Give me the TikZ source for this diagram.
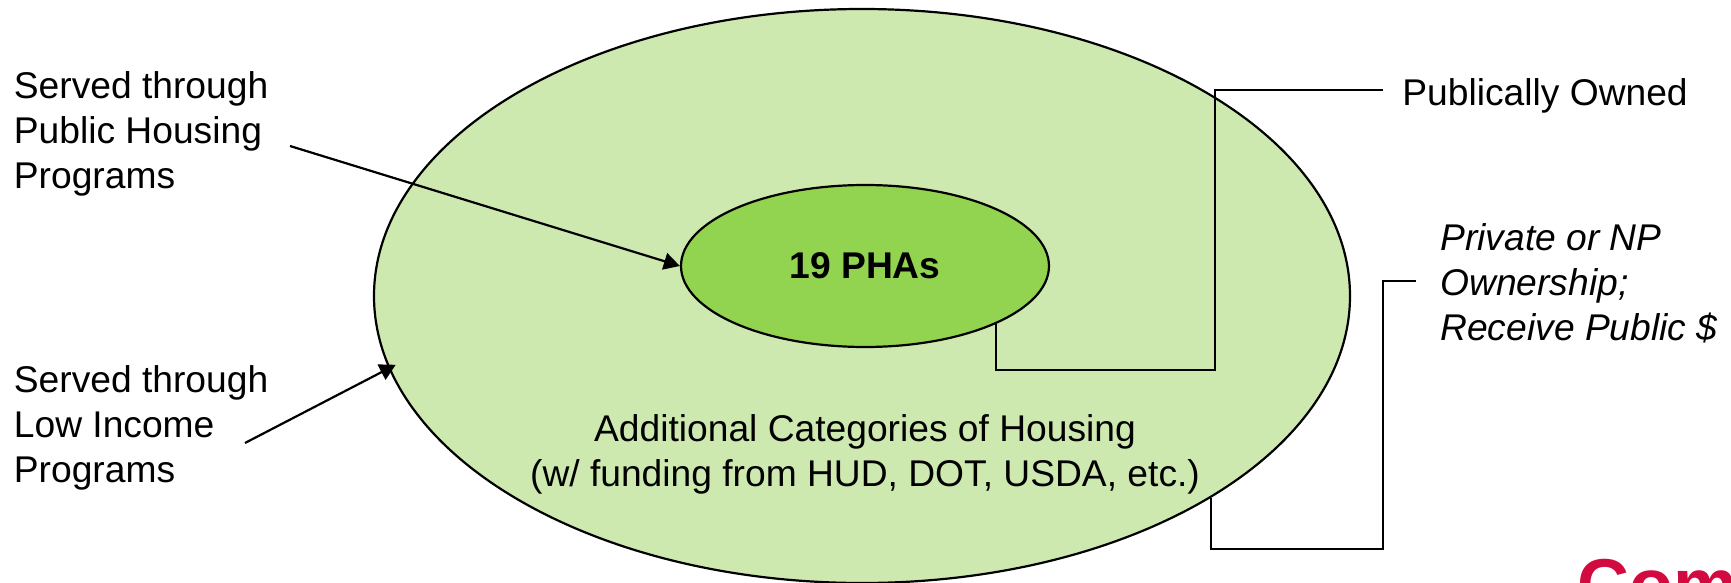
\documentclass[tikz,border=0pt]{standalone}
\usepackage{fontspec}
\setmainfont{Liberation Sans}
\usetikzlibrary{shapes.geometric,arrows.meta}
\definecolor{outerfill}{HTML}{CEE9B0}
\definecolor{innerfill}{HTML}{92D350}
\definecolor{logored}{HTML}{D20A40}
\tikzset{
  blob/.style={ellipse,draw=black,line width=1.1pt,inner sep=0pt},
  lbl/.style={font=\fontsize{18.6}{22.5}\selectfont,align=left,anchor=west,inner sep=0pt},
  conn/.style={draw=black,line width=1.1pt,line join=miter},
  arrowc/.style={conn,-{Stealth[length=8pt,width=8.5pt,inset=0pt]}}
}
\begin{document}
\begin{tikzpicture}[x=0.5pt,y=-0.5pt]
\useasboundingbox (0,0) rectangle (1731,583);
\begin{scope}
\clip (0,0) rectangle (1731,583);
\node[blob,fill=outerfill,minimum width=488pt,minimum height=287pt] (outer) at (862,296) {};
\node[lbl,text=logored,font=\fontsize{36}{36}\selectfont\bfseries,anchor=base west] (logo) at (1577,609) {Com};
\end{scope}
\node[blob,fill=innerfill,minimum width=184pt,minimum height=81pt,font=\fontsize{18.6}{22.5}\selectfont\bfseries] (inner) at (865,266) {19 PHAs};
\node[lbl,align=center,anchor=center] (cats) at (865,454) {Additional Categories of Housing\\(w/ funding from HUD, DOT, USDA, etc.)};
\node[lbl] (pubhous) at (13.5,134) {Served through\\Public Housing\\Programs};
\node[lbl] (lowinc) at (13.5,428) {Served through\\Low Income\\Programs};
\node[lbl] (pubown) at (1402,96) {Publically Owned};
\node[lbl,font=\fontsize{18.6}{22.5}\selectfont\itshape] (priv) at (1440,283) {Private or NP\\Ownership;\\Receive Public \$};
\coordinate (a1) at (290,146);
\coordinate (a2) at (245,443);
\coordinate (c1) at (1383,90);
\coordinate (c2) at (1416,281);
\draw[arrowc] (a1) -- (inner.west);
\draw[arrowc] (a2) -- ([shift={(6,-6)}]outer.-171.4);
\draw[conn] (inner.-24.4) |- (1215,370) |- (c1);
\draw[conn] (outer.-30.9) |- (1383,549) |- (c2);
\end{tikzpicture}
\end{document}
